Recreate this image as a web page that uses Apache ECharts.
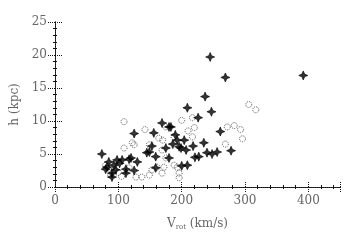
<!DOCTYPE html>
<html><head><meta charset="utf-8">
<script src="https://cdn.jsdelivr.net/npm/echarts@6/dist/echarts.min.js"></script>
<style>html,body{margin:0;padding:0;background:#fff}#c{width:354px;height:240px}</style>
</head><body><div id="c"></div>
<script>
var xTicks = [0, 100, 200, 300, 400];
var yTicks = [0, 5, 10, 15, 20, 25];
var filledV = [245,269,392,237,247,209,278,261,256,248,240,235,227,221,218,209,200,183,226,169,180,190,193,204,196,175,207,125,156,153,145,159,180,106,120,112,125,74,82,93,90,98,80,85,117,149,96,112,90,159,102,130,186,199];
var filledH = [19.7,16.6,16.9,13.7,11.4,12.0,5.5,8.4,5.3,5.0,5.2,6.7,4.6,4.5,6.2,3.3,3.2,9.1,10.5,9.7,9.1,7.9,7.1,7.1,6.1,5.9,5.6,8.1,8.2,6.2,5.2,4.6,4.4,4.1,4.4,2.7,2.5,5.0,3.0,3.3,2.1,4.1,2.7,3.8,4.2,5.3,2.6,2.1,1.5,2.9,3.6,3.8,6.5,5.9];
var openV = [306,317,283,293,296,272,269,217,220,217,193,196,196,170,172,169,175,109,142,125,109,149,175,188,161,128,137,149,80,88,117,164,169,153,188,122,93,88,100,105,210,200];
var openH = [12.5,11.7,9.3,8.7,7.3,9.1,6.5,10.5,9.0,7.6,3.0,2.1,1.4,7.1,3.0,2.1,4.4,9.9,8.7,6.4,5.9,6.4,9.1,7.6,3.0,1.5,1.5,1.8,3.3,2.6,2.9,7.4,5.6,2.6,3.3,6.7,2.6,1.8,2.2,1.6,8.5,10.1];

function pairs(a, b) { return a.map(function (v, i) { return [v, b[i]]; }); }
var font = 'DejaVu Serif';
var txt = '#666';
function xAxis(pos, showLabel) {
  return {
    type: 'value', position: pos, min: 0, max: 450, interval: 100,
    axisLine: { show: true, lineStyle: { color: '#111', width: 1, type: [1, 1] } },
    axisTick: { show: true, inside: true, length: 5, lineStyle: { color: '#111', type: [1, 1] } },
    minorTick: { show: true, splitNumber: 5, length: 2, lineStyle: { color: '#111' } },
    splitLine: { show: false },
    axisLabel: { show: showLabel, showMaxLabel: false, fontFamily: font, fontSize: 12, color: txt, margin: 8,
      formatter: function (v) { return xTicks.indexOf(v) >= 0 ? String(v) : ''; } },
    name: showLabel ? 'V{s|rot} (km/s)' : '', nameLocation: 'middle', nameGap: 29,
    nameTextStyle: { fontFamily: font, fontSize: 12, color: txt, rich: { s: { fontFamily: font, fontSize: 7, color: txt, verticalAlign: 'bottom', padding: [8, 0, 0, 0] } } }
  };
}
function yAxis(pos, showLabel) {
  return {
    type: 'value', position: pos, min: 0, max: 25, interval: 5,
    axisLine: { show: true, lineStyle: { color: '#111', width: 1, type: [1, 1] } },
    axisTick: { show: true, inside: true, length: 7, lineStyle: { color: '#111', type: [1, 1] } },
    minorTick: { show: true, splitNumber: 5, length: 2, lineStyle: { color: '#111' } },
    splitLine: { show: false },
    axisLabel: { show: showLabel, fontFamily: font, fontSize: 12, color: txt, margin: 8,
      formatter: function (v) { return yTicks.indexOf(v) >= 0 ? String(v) : ''; } },
    name: showLabel ? 'h (kpc)' : '', nameLocation: 'middle', nameGap: 26, nameRotate: 90,
    nameTextStyle: { fontFamily: font, fontSize: 12, color: txt }
  };
}
var star = 'path://M0,-10 L3,-3 L10,0 L3,3 L0,10 L-3,3 L-10,0 L-3,-3 Z';
var chart = echarts.init(document.getElementById('c'), null, { renderer: 'canvas' });
chart.setOption({
  animation: false,
  backgroundColor: '#fff',
  grid: { left: 55, right: 14, top: 22, bottom: 53 },
  xAxis: [xAxis('bottom', true), xAxis('top', false)],
  yAxis: [yAxis('left', true), yAxis('right', false)],
  series: [
    { type: 'scatter', data: pairs(openV, openH), symbol: 'circle', symbolSize: 6,
      itemStyle: { color: 'rgba(255,255,255,0)', borderColor: '#333', borderWidth: 1, borderType: [1, 1] } },
    { type: 'scatter', data: pairs(filledV, filledH), symbol: star, symbolSize: 9,
      itemStyle: { color: '#000', borderColor: '#000', borderWidth: 0.8 } }
  ]
});
</script></body></html>
